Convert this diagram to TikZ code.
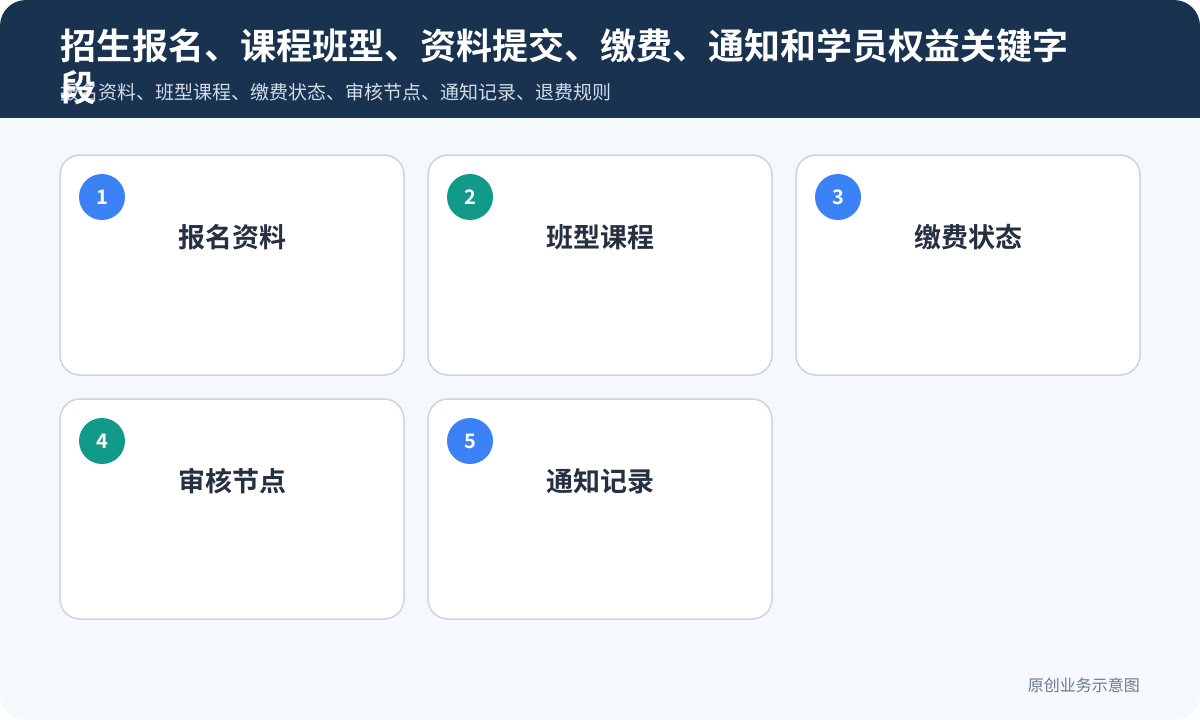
\documentclass[tikz,border=0pt]{standalone}
\usepackage{fontspec}
\usetikzlibrary{calc}
\setmainfont{Noto Sans CJK SC}
\newfontfamily\cjkbold{Noto Sans CJK SC Bold}
\newfontfamily\cjkreg{Noto Sans CJK SC}
\definecolor{hdr}{HTML}{18324F}
\definecolor{pagebg}{HTML}{F5F8FC}
\definecolor{cardline}{HTML}{CDD5E0}
\definecolor{blueC}{HTML}{3B82F6}
\definecolor{tealC}{HTML}{11998A}
\definecolor{darktext}{HTML}{263041}
\definecolor{subtext}{HTML}{D3DCE8}
\definecolor{foottext}{HTML}{6B7A90}
\tikzset{
  card/.style={draw=cardline, line width=1.5pt, fill=white, rounded corners=20pt},
  badge/.style={circle, minimum size=46pt, inner sep=0pt, text=white, font=\cjkbold\fontsize{20}{20}\selectfont},
  cardtitle/.style={text=darktext, font=\cjkbold\fontsize{27}{27}\selectfont, inner sep=0pt},
  titletext/.style={anchor=base west, inner sep=0pt, text=white, font=\cjkbold\fontsize{36}{36}\selectfont},
}
\begin{document}
\begin{tikzpicture}[x=1pt,y=-1pt]
\useasboundingbox (0,0) rectangle (1200,720);
\fill[white] (0,0) rectangle (1200,720);
\fill[pagebg, rounded corners=26pt] (0,0) rectangle (1200,720);
\begin{scope}
\clip[rounded corners=26pt] (0,0) rectangle (1200,720);
\fill[hdr] (0,0) rectangle (1200,118);
\end{scope}
% subtitle
\node[anchor=west, inner sep=0pt, text=subtext, font=\cjkreg\fontsize{19}{19}\selectfont] (sub) at (60,92) {报名资料、班型课程、缴费状态、审核节点、通知记录、退费规则};
% title
\node[titletext] (title1) at (60,59) {招生报名、课程班型、资料提交、缴费、通知和学员权益关键字};
\node[titletext] (title2) at (60,101) {段};
% cards
\foreach \nm/\x/\y/\num/\col/\txt in {c1/60/155/1/blueC/报名资料, c2/428/155/2/tealC/班型课程, c3/796/155/3/blueC/缴费状态, c4/60/399/4/tealC/审核节点, c5/428/399/5/blueC/通知记录}{
  \draw[card] (\x,\y) rectangle ++(344,220);
  \node[badge, fill=\col] (\nm b) at ($(\x,\y)+(42,42)$) {\num};
  \node[cardtitle] (\nm t) at ($(\x,\y)+(172,82)$) {\txt};
}
\node[anchor=east, inner sep=0pt, text=foottext, font=\cjkreg\fontsize{16}{16}\selectfont] (foot) at (1140,685) {原创业务示意图};
\end{tikzpicture}
\end{document}
